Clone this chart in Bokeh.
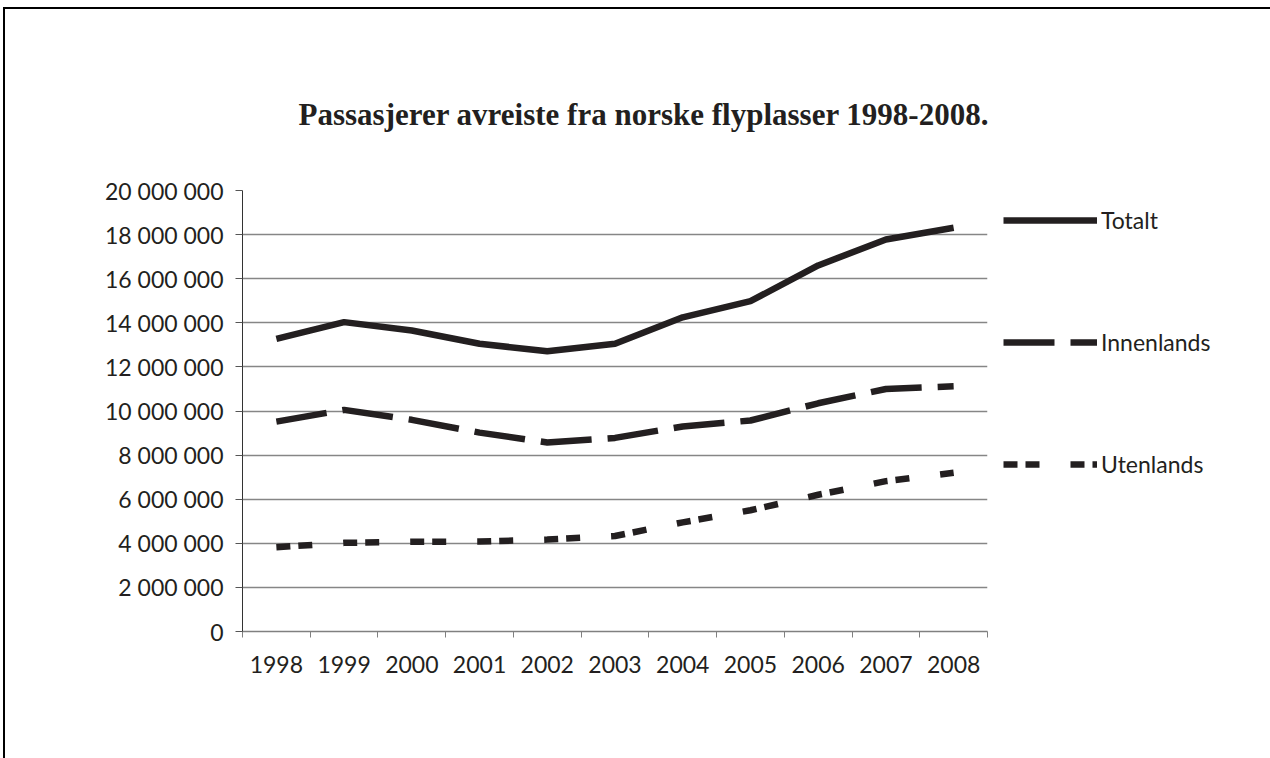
from bokeh.plotting import figure
from bokeh.models import FixedTicker, Legend, LegendItem, Title
from bokeh.embed import file_html
from bokeh.resources import INLINE

# Departing passengers from Norwegian airports, 1998-2008
years = [1998, 1999, 2000, 2001, 2002, 2003, 2004, 2005, 2006, 2007, 2008]
totalt = [13_270_000, 14_030_000, 13_650_000, 13_050_000, 12_710_000, 13_050_000,
          14_250_000, 14_980_000, 16_600_000, 17_780_000, 18_310_000]
innenlands = [9_520_000, 10_050_000, 9_600_000, 9_020_000, 8_570_000, 8_780_000,
              9_300_000, 9_570_000, 10_350_000, 11_000_000, 11_120_000]
utenlands = [3_820_000, 4_020_000, 4_070_000, 4_080_000, 4_170_000, 4_330_000,
             4_950_000, 5_500_000, 6_200_000, 6_820_000, 7_200_000]

y_ticks = [0, 2_000_000, 4_000_000, 6_000_000, 8_000_000, 10_000_000,
           12_000_000, 14_000_000, 16_000_000, 18_000_000, 20_000_000]
y_tick_labels = ["0", "2 000 000", "4 000 000", "6 000 000", "8 000 000", "10 000 000",
                 "12 000 000", "14 000 000", "16 000 000", "18 000 000", "20 000 000"]
year_labels = ["1998", "1999", "2000", "2001", "2002", "2003",
               "2004", "2005", "2006", "2007", "2008"]

title_text = "Passasjerer avreiste fra norske flyplasser 1998-2008."

INK = "#231f20"
SANS = "Lato"

p = figure(
    frame_width=745, frame_height=441,
    x_range=(years[0] - 0.5, years[-1] + 0.5),
    y_range=(y_ticks[0], y_ticks[-1]),
    output_backend="svg", toolbar_location=None,
    min_border_left=237, min_border_right=0,
    min_border_top=181, min_border_bottom=127,
)
p.styles = {
    "margin-top": "7px", "margin-left": "3px",
    "border-top": "2px solid black", "border-left": "2px solid black",
}
p.outline_line_color = None
p.background_fill_color = "white"
p.border_fill_color = "white"

# title
p.title = None
p.add_layout(Title(text=title_text, align="left", offset=56, standoff=118,
                   text_font="Liberation Serif", text_font_style="bold",
                   text_font_size="31px", text_color=INK), "above")

# x axis: labels at the year centres, small ticks between the years
boundaries = [y - 0.5 for y in years] + [years[-1] + 0.5]
p.xaxis.ticker = FixedTicker(ticks=years, minor_ticks=boundaries)
p.xaxis.major_label_overrides = {y: s for y, s in zip(years, year_labels)}
p.xaxis.major_tick_out = 0
p.xaxis.major_tick_in = 0
p.xaxis.minor_tick_out = 6
p.xaxis.minor_tick_in = 0
p.xaxis.minor_tick_line_color = "#808080"
p.xaxis.axis_line_color = "#808080"
p.xaxis.axis_line_width = 1.5
p.xaxis.major_label_standoff = 18
p.xaxis.major_label_text_font = SANS
p.xaxis.major_label_text_font_size = "23px"
p.xaxis.major_label_text_color = INK

# y axis
p.yaxis.ticker = FixedTicker(ticks=y_ticks, minor_ticks=[])
p.yaxis.major_label_overrides = {t: s for t, s in zip(y_ticks, y_tick_labels)}
p.yaxis.major_tick_out = 7
p.yaxis.major_tick_in = 0
p.yaxis.major_tick_line_color = "#555555"
p.yaxis.axis_line_color = "#333333"
p.yaxis.major_label_standoff = 12
p.yaxis.major_label_text_font = SANS
p.yaxis.major_label_text_font_size = "23px"
p.yaxis.major_label_text_color = INK

p.xgrid.grid_line_color = None
p.ygrid.grid_line_color = "#868686"
p.ygrid.grid_line_width = 1.4

r_tot = p.line(years, totalt, line_color=INK, line_width=6.5)
r_inn = p.line(years, innenlands, line_color=INK, line_width=6.5,
               line_dash="51 16", line_cap="butt")
r_ute = p.line(years, utenlands, line_color=INK, line_width=6.5,
               line_dash="14 8 14 31", line_cap="butt")

legend = Legend(
    items=[LegendItem(label="Totalt", renderers=[r_tot]),
           LegendItem(label="Innenlands", renderers=[r_inn]),
           LegendItem(label="Utenlands", renderers=[r_ute])],
    location="top_left",
    glyph_width=94, glyph_height=24, label_standoff=4,
    spacing=94, padding=5, margin=16,
    border_line_color=None, background_fill_alpha=0,
    label_text_font=SANS, label_text_font_size="23px", label_text_color=INK,
)
p.add_layout(legend, "right")

open("out.html", "w").write(file_html(p, INLINE))
